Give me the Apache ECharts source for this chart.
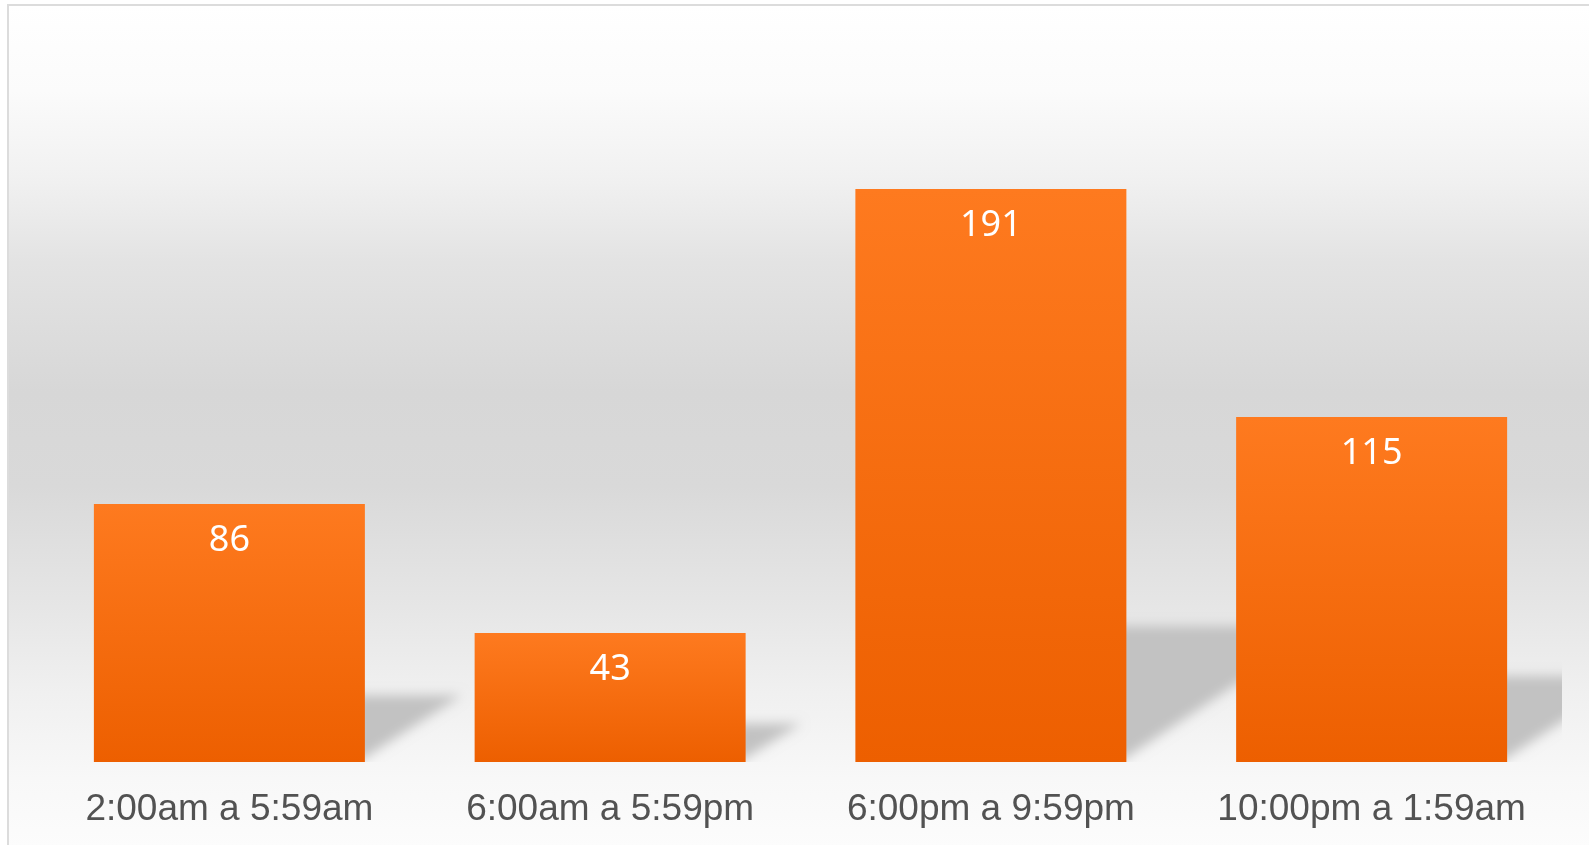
<!DOCTYPE html>
<html>
<head>
<meta charset="utf-8">
<title>Horario</title>
<script src="https://cdn.jsdelivr.net/npm/echarts@6/dist/echarts.min.js"></script>
<style>
  html, body { margin: 0; padding: 0; background: #fff; }
  #main { width: 1589px; height: 845px; }
</style>
</head>
<body>
<div id="main"></div>
<script>
// datos del gráfico
var categories = ['2:00am a 5:59am', '6:00am a 5:59pm', '6:00pm a 9:59pm', '10:00pm a 1:59am'];
var values = [86, 43, 191, 115];

var barWidth = 271;

(function () {
  var myChart = echarts.init(document.getElementById('main'));

  // sombra inclinada: la forma queda fuera del área y solo se ve su sombra difuminada
  var OFF = 2000;
  function renderShadow(params, api) {
    var base = api.coord([api.value(0), 0]);
    var top = api.coord([api.value(0), api.value(1)]);
    var right = base[0] + barWidth / 2;
    var h = base[1] - top[1];
    var sh = 0.22 * h + 10;
    var sw = 1.45 * sh;
    var y0 = base[1] - OFF;
    return {
      type: 'polygon',
      shape: { points: [[right - 10, y0 - sh], [right + sw, y0 - sh], [right - 10, y0 + 2]] },
      style: { fill: '#c2c2c2', shadowBlur: 12, shadowColor: '#c2c2c2', shadowOffsetY: OFF }
    };
  }

  var option = {
    animation: false,
    graphic: [
      {
        type: 'rect', z: -10, silent: true,
        shape: { x: 8, y: 5, width: 1600, height: 860 },
        style: {
          fill: new echarts.graphic.LinearGradient(0, 0, 0, 1, [
            { offset: 0, color: '#ffffff' },
            { offset: 0.1, color: '#fbfbfb' },
            { offset: 0.2, color: '#f1f1f1' },
            { offset: 0.3, color: '#e3e3e3' },
            { offset: 0.45, color: '#d7d7d7' },
            { offset: 0.56, color: '#d9d9d9' },
            { offset: 0.7, color: '#e6e6e6' },
            { offset: 0.8, color: '#f0f0f0' },
            { offset: 0.9, color: '#f8f8f8' },
            { offset: 1, color: '#fdfdfd' }
          ])
        }
      },
      {
        type: 'rect', z: 100, silent: true,
        shape: { x: 8, y: 5, width: 1600, height: 860 },
        style: { fill: 'none', stroke: '#dcdcdc', lineWidth: 2 }
      }
    ],
    grid: { left: 39, right: 27, top: 42, bottom: 83 },
    xAxis: {
      type: 'category',
      data: categories,
      axisLine: { show: false },
      axisTick: { show: false },
      axisLabel: {
        interval: 0,
        margin: 29,
        fontSize: 37,
        color: '#525252',
        fontFamily: 'Liberation Sans, Arial, sans-serif'
      }
    },
    yAxis: {
      type: 'value',
      min: 0,
      max: 240,
      show: false,
      splitLine: { show: false }
    },
    series: [
      {
        type: 'custom',
        renderItem: renderShadow,
        clip: true,
        z: 1,
        data: values.map(function (v, i) { return [i, v]; })
      },
      {
        type: 'bar',
        data: values,
        barWidth: barWidth,
        z: 5,
        itemStyle: {
          color: new echarts.graphic.LinearGradient(0, 0, 0, 1, [
            { offset: 0, color: '#fe7a1f' },
            { offset: 1, color: '#ed5f00' }
          ])
        },
        label: {
          show: true,
          position: 'insideTop',
          distance: 19,
          fontSize: 36,
          color: '#ffffff',
          fontFamily: 'Noto Sans, sans-serif'
        }
      }
    ]
  };
  myChart.setOption(option);
})();
</script>
</body>
</html>
